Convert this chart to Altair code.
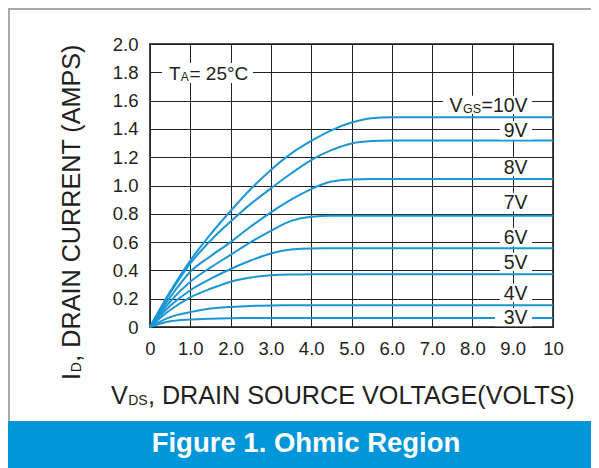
import altair as alt
import pandas as pd

# ---------------- data ----------------
VDS = [0, 0.5, 1, 1.5, 2, 2.5, 3, 3.5, 4, 4.5, 5, 5.5, 6, 7, 8, 9, 10]
ID_10V = [0, 0.25, 0.47, 0.655, 0.82, 0.975, 1.11, 1.225, 1.315, 1.39, 1.445, 1.476, 1.482, 1.483, 1.483, 1.483, 1.483]
ID_9V = [0, 0.24, 0.45, 0.61, 0.745, 0.87, 0.98, 1.085, 1.18, 1.25, 1.297, 1.314, 1.318, 1.318, 1.318, 1.318, 1.318]
ID_8V = [0, 0.21, 0.39, 0.50, 0.60, 0.71, 0.81, 0.90, 0.975, 1.028, 1.043, 1.046, 1.046, 1.046, 1.046, 1.046, 1.046]
ID_7V = [0, 0.18, 0.32, 0.42, 0.51, 0.60, 0.68, 0.75, 0.78, 0.786, 0.786, 0.786, 0.786, 0.786, 0.786, 0.786, 0.786]
ID_6V = [0, 0.15, 0.26, 0.34, 0.41, 0.47, 0.52, 0.547, 0.555, 0.556, 0.556, 0.556, 0.556, 0.556, 0.556, 0.556, 0.556]
ID_5V = [0, 0.12, 0.21, 0.27, 0.32, 0.35, 0.366, 0.371, 0.372, 0.372, 0.372, 0.372, 0.372, 0.372, 0.372, 0.372, 0.372]
ID_4V = [0, 0.07, 0.105, 0.13, 0.142, 0.149, 0.152, 0.153, 0.153, 0.153, 0.153, 0.153, 0.153, 0.153, 0.153, 0.153, 0.153]
ID_3V = [0, 0.04, 0.053, 0.059, 0.062, 0.063, 0.063, 0.063, 0.063, 0.063, 0.063, 0.063, 0.063, 0.063, 0.063, 0.063, 0.063]

GATE = ["10V", "9V", "8V", "7V", "6V", "5V", "4V", "3V"]
SERIES = [ID_10V, ID_9V, ID_8V, ID_7V, ID_6V, ID_5V, ID_4V, ID_3V]

LABEL_TEXT = ["=10V", "9V", "8V", "7V", "6V", "5V", "4V", "3V"]
LABEL_Y = [1.57, 1.39, 1.13, 0.883, 0.636, 0.46, 0.24, 0.07]
LABEL_X = 9.37
BOX_LEFT = [7.27, 8.68, 8.68, 8.68, 8.68, 8.68, 8.68, 8.56]
BOX_RIGHT = 9.48
BOX_HALF = 0.065

X_TICKS = [0, 1, 2, 3, 4, 5, 6, 7, 8, 9, 10]
Y_TICKS = [0, 0.2, 0.4, 0.6, 0.8, 1.0, 1.2, 1.4, 1.6, 1.8, 2.0]

BLUE_LINE = "#1a96d4"
BLUE_BAR = "#0096d9"
INK = "#231f20"
FONT = "Liberation Sans"

# ---------------- tables ----------------
rows = []
for g, s in zip(GATE, SERIES):
    for x, y in zip(VDS, s):
        rows.append({"vds": x, "id": y, "vgs": g})
curves = pd.DataFrame(rows)

labels = pd.DataFrame({
    "text": LABEL_TEXT,
    "ly": LABEL_Y,
    "lx": [LABEL_X] * len(LABEL_TEXT),
    "bx1": BOX_LEFT,
    "bx2": [BOX_RIGHT] * len(LABEL_TEXT),
    "by1": [v - BOX_HALF for v in LABEL_Y],
    "by2": [v + BOX_HALF for v in LABEL_Y],
})
one = pd.DataFrame({"k": [0]})

xscale = alt.Scale(domain=[0, 10], nice=False, zero=False)
yscale = alt.Scale(domain=[0, 2], nice=False, zero=False)

axis_common = dict(
    grid=True, gridColor="#222222", gridWidth=1, ticks=False, tickSize=0,
    domain=False, labelFontSize=18.5, labelFont=FONT, labelColor=INK,
    labelPadding=12, title=None, labelOverlap=False, labelBound=False,
    labelFlush=False,
)

xaxis = alt.Axis(values=X_TICKS,
                 labelExpr="datum.value == 0 ? '0' : (datum.value == 10 ? '10' : format(datum.value, '.1f'))",
                 **axis_common)
yaxis = alt.Axis(values=Y_TICKS,
                 labelExpr="datum.value == 0 ? '0' : format(datum.value, '.1f')",
                 **axis_common)


def X(field):
    return alt.X(field, scale=xscale, axis=xaxis)


def Y(field):
    return alt.Y(field, scale=yscale, axis=yaxis)


lines = alt.Chart(curves).mark_line(
    interpolate="monotone", color=BLUE_LINE, strokeWidth=2
).encode(x=X("vds:Q"), y=Y("id:Q"), detail="vgs:N")

boxes = alt.Chart(labels).mark_rect(color="white").encode(
    x=X("bx1:Q"), x2="bx2:Q", y=Y("by1:Q"), y2="by2:Q",
)

label_text = alt.Chart(labels).mark_text(
    align="right", baseline="alphabetic", dy=7, fontSize=19.5, font=FONT, color=INK
).encode(x=X("lx:Q"), y=Y("ly:Q"), text="text:N")

vgs_data = labels.iloc[[0]]
vgs_sub = alt.Chart(vgs_data).mark_text(
    align="right", baseline="alphabetic", dy=8, dx=-46.5, fontSize=12.5, font=FONT, color=INK, text="GS"
).encode(x=X("lx:Q"), y=Y("ly:Q"))
vgs_v = alt.Chart(vgs_data).mark_text(
    align="right", baseline="alphabetic", dy=7, dx=-65, fontSize=19.5, font=FONT, color=INK, text="V"
).encode(x=X("lx:Q"), y=Y("ly:Q"))

# T_A annotation (pixel positions inside the plot)
ta_box = alt.Chart(one).mark_rect(color="white").encode(
    x=alt.value(12), x2=alt.value(103), y=alt.value(19), y2=alt.value(39)
)
ta_T = alt.Chart(one).mark_text(align="left", baseline="alphabetic", fontSize=19, font=FONT, color=INK, text="T").encode(
    x=alt.value(19), y=alt.value(36))
ta_A = alt.Chart(one).mark_text(align="left", baseline="alphabetic", fontSize=12, font=FONT, color=INK, text="A").encode(
    x=alt.value(30.8), y=alt.value(37))
ta_rest = alt.Chart(one).mark_text(align="left", baseline="alphabetic", fontSize=19, font=FONT, color=INK, text="= 25°C").encode(
    x=alt.value(39.5), y=alt.value(36))

# axis titles with subscripts
TITLE_SIZE = 25.2
yt_I = alt.Chart(one).mark_text(angle=270, align="left", baseline="alphabetic", fontSize=TITLE_SIZE, font=FONT, color=INK, text="I").encode(
    x=alt.value(-70), y=alt.value(336))
yt_D = alt.Chart(one).mark_text(angle=270, align="left", baseline="alphabetic", fontSize=14, font=FONT, color=INK, text="D").encode(
    x=alt.value(-69), y=alt.value(328.3))
yt_rest = alt.Chart(one).mark_text(angle=270, align="left", baseline="alphabetic", fontSize=TITLE_SIZE, font=FONT, color=INK,
                                   text=", DRAIN CURRENT (AMPS)").encode(x=alt.value(-70), y=alt.value(317.7))

xt_V = alt.Chart(one).mark_text(align="left", baseline="alphabetic", fontSize=TITLE_SIZE, font=FONT, color=INK, text="V").encode(
    x=alt.value(-39), y=alt.value(360))
xt_DS = alt.Chart(one).mark_text(align="left", baseline="alphabetic", fontSize=14, font=FONT, color=INK, text="DS").encode(
    x=alt.value(-21.8), y=alt.value(361))
xt_rest = alt.Chart(one).mark_text(align="left", baseline="alphabetic", fontSize=TITLE_SIZE, font=FONT, color=INK,
                                   text=", DRAIN SOURCE VOLTAGE(VOLTS)").encode(x=alt.value(-2.1), y=alt.value(360))

# frame and footer
frame_top = alt.Chart(one).mark_rule(color="#a9a9a9", strokeWidth=2).encode(
    x=alt.value(-142), x2=alt.value(441), y=alt.value(-35))
frame_left = alt.Chart(one).mark_rule(color="#a9a9a9", strokeWidth=2).encode(
    x=alt.value(-141), y=alt.value(-36), y2=alt.value(377))
footer = alt.Chart(one).mark_rect(color=BLUE_BAR).encode(
    x=alt.value(-142), x2=alt.value(441), y=alt.value(377), y2=alt.value(424))
footer_text = alt.Chart(one).mark_text(align="center", baseline="middle", fontSize=27.5, fontWeight="bold", font=FONT,
                                       color="white", text="Figure 1. Ohmic Region").encode(
    x=alt.value(156), y=alt.value(400))

chart = alt.layer(
    lines, boxes, label_text, vgs_sub, vgs_v,
    ta_box, ta_T, ta_A, ta_rest,
    yt_I, yt_D, yt_rest, xt_V, xt_DS, xt_rest,
    frame_top, frame_left, footer, footer_text,
).properties(
    width=403, height=283,
    autosize=alt.AutoSizeParams(type="none"),
    padding={"left": 142, "top": 36, "right": 38, "bottom": 141},
    background="white",
).configure_view(stroke="#4a4a4a", strokeWidth=2)

chart.save("out.html", embed_options={"renderer": "svg", "actions": False})
